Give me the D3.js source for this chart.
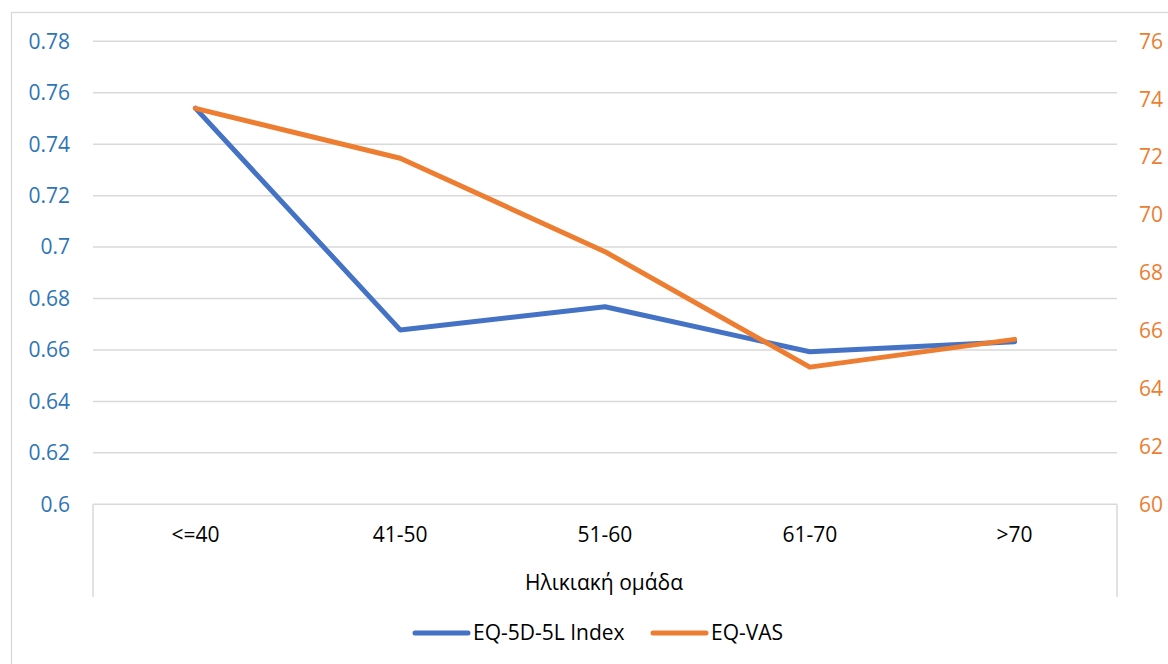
<!DOCTYPE html>
<html>
<head>
<meta charset="utf-8">
<script src="https://cdn.jsdelivr.net/npm/d3@7"></script>
<style>
  html, body { margin: 0; padding: 0; background: #fff; }
  svg { display: block; }
  text { font-family: "Open Sans", "Noto Sans", sans-serif; }
</style>
</head>
<body>
<svg id="chart" width="1168" height="664"></svg>
<script>
const categories = ["<=40", "41-50", "51-60", "61-70", ">70"];
const indexValues = [0.754, 0.6678, 0.6768, 0.6593, 0.6632];
const vasValues = [73.68, 71.96, 68.73, 64.74, 65.70];
const leftTicks = [0.6, 0.62, 0.64, 0.66, 0.68, 0.7, 0.72, 0.74, 0.76, 0.78];
const rightTicks = [60, 62, 64, 66, 68, 70, 72, 74, 76];
const seriesNames = ["EQ-5D-5L Index", "EQ-VAS"];
const xTitle = "Ηλικιακή ομάδα";

const svg = d3.select("#chart");
const plot = { left: 93, right: 1117, top: 41.3, bottom: 504.3 };
const blue = "#4472C4", orange = "#ED7D31", grid = "#D9D9D9";

// outer chart border
svg.append("rect").attr("x", 11.5).attr("y", 12.5).attr("width", 1170).attr("height", 700)
  .attr("fill", "none").attr("stroke", grid).attr("stroke-width", 1.3);

const x = d3.scaleBand().domain(categories).range([plot.left, plot.right]).padding(0);
const xc = d => x(d) + x.bandwidth() / 2;
const yL = d3.scaleLinear().domain([0.6, 0.78]).range([plot.bottom, plot.top]);
const yR = d3.scaleLinear().domain([60, 76]).range([plot.bottom, plot.top]);

// gridlines
svg.append("g").selectAll("line").data(leftTicks).join("line")
  .attr("x1", plot.left).attr("x2", plot.right)
  .attr("y1", d => yL(d)).attr("y2", d => yL(d))
  .attr("stroke", grid).attr("stroke-width", 1.5);

// category axis box sides
[plot.left, plot.right].forEach(px => {
  svg.append("line").attr("x1", px).attr("x2", px)
    .attr("y1", plot.bottom).attr("y2", 597)
    .attr("stroke", grid).attr("stroke-width", 1.5);
});

// left axis labels
svg.append("g").selectAll("text").data(leftTicks).join("text")
  .attr("x", 70).attr("y", d => yL(d)).attr("dy", "0.35em")
  .attr("text-anchor", "end").attr("font-size", 21).attr("fill", "#2E75B6")
  .text(d => d3.format("~g")(d));

// right axis labels
svg.append("g").selectAll("text").data(rightTicks).join("text")
  .attr("x", 1139).attr("y", d => yR(d)).attr("dy", "0.35em")
  .attr("text-anchor", "start").attr("font-size", 21).attr("fill", orange)
  .text(d => d);

// category labels
svg.append("g").selectAll("text").data(categories).join("text")
  .attr("x", d => xc(d)).attr("y", 535).attr("dy", "0.35em")
  .attr("text-anchor", "middle").attr("font-size", 21).attr("fill", "#000")
  .text(d => d);

// x title
svg.append("text").attr("x", 604).attr("y", 583).attr("dy", "0.35em")
  .attr("text-anchor", "middle").attr("font-size", 21).attr("fill", "#000").text(xTitle);

// lines
const lineL = d3.line().x((d, i) => xc(categories[i])).y(d => yL(d));
const lineR = d3.line().x((d, i) => xc(categories[i])).y(d => yR(d));
svg.append("path").datum(indexValues).attr("d", lineL)
  .attr("fill", "none").attr("stroke", blue).attr("stroke-width", 5)
  .attr("stroke-linejoin", "round").attr("stroke-linecap", "round");
svg.append("path").datum(vasValues).attr("d", lineR)
  .attr("fill", "none").attr("stroke", orange).attr("stroke-width", 5)
  .attr("stroke-linejoin", "round").attr("stroke-linecap", "round");

// legend
const legend = [
  { name: seriesNames[0], color: blue, x0: 415, x1: 468, tx: 473 },
  { name: seriesNames[1], color: orange, x0: 653, x1: 706, tx: 711 }
];
legend.forEach(l => {
  svg.append("line").attr("x1", l.x0).attr("x2", l.x1).attr("y1", 633).attr("y2", 633)
    .attr("stroke", l.color).attr("stroke-width", 5).attr("stroke-linecap", "round");
  svg.append("text").attr("x", l.tx).attr("y", 633).attr("dy", "0.35em")
    .attr("font-size", 21).attr("fill", "#000").text(l.name);
});
</script>
</body>
</html>
